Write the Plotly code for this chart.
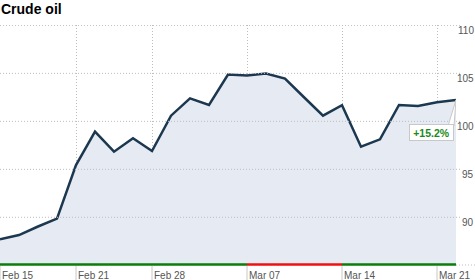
import plotly.graph_objects as go

# ---- data ----
dates = ["2011-02-15", "2011-02-16", "2011-02-17", "2011-02-18",
         "2011-02-22", "2011-02-23", "2011-02-24", "2011-02-25",
         "2011-02-28", "2011-03-01", "2011-03-02", "2011-03-03", "2011-03-04",
         "2011-03-07", "2011-03-08", "2011-03-09", "2011-03-10", "2011-03-11",
         "2011-03-14", "2011-03-15", "2011-03-16", "2011-03-17", "2011-03-18",
         "2011-03-21", "2011-03-22"]
prices = [87.71, 88.15, 89.04, 89.87,
          95.45, 98.93, 96.84, 98.24,
          96.91, 100.59, 102.39, 101.71, 104.87,
          104.77, 104.98, 104.45, 102.51, 100.59,
          101.68, 97.36, 98.13, 101.71, 101.61,
          101.99, 102.23]
x_tick_dates = ["2011-02-15", "2011-02-22", "2011-02-28", "2011-03-07", "2011-03-14", "2011-03-21"]
x_tick_labels = ["Feb 15", "Feb 21", "Feb 28", "Mar 07", "Mar 14", "Mar 21"]
week_colors = ["#0a7d0a", "#0a7d0a", "#0a7d0a", "#ee1111", "#0a7d0a", "#0a7d0a"]
y_ticks = [90, 95, 100, 105, 110]
y_tick_labels = ["90", "95", "100", "105", "110"]
title = "Crude oil"
change_label = "+15.2%"

FONT = "Liberation Sans, Arial, sans-serif"
W, H = 475, 280
L, R, T, B = 0, 19, 25, 15
plot_w = W - L - R
plot_h = H - T - B
DOT = "1px,2px"
GRID = "#bdbdbd"

fig = go.Figure()
fig.add_trace(go.Scatter(
    x=dates, y=prices, mode="lines",
    line=dict(color="#1c3850", width=2.5),
    fill="tozeroy", fillcolor="#e6eaf2",
    hoverinfo="skip", showlegend=False,
))

shapes = []
# horizontal dotted gridlines extending toward the labels
for v in y_ticks:
    shapes.append(dict(type="line", xref="paper", yref="y",
                       x0=0, x1=1 + 5 / plot_w, y0=v, y1=v,
                       line=dict(color=GRID, width=1, dash=DOT), layer="above"))
# weekly up/down bar along the bottom
idx = [dates.index(d) for d in x_tick_dates]
ends = idx[1:] + [len(dates) - 1]
for s, e, c in zip(idx, ends, week_colors):
    shapes.append(dict(type="line", xref="x", yref="paper",
                       x0=dates[s], x1=dates[e], y0=0.5 / plot_h, y1=0.5 / plot_h,
                       line=dict(color=c, width=2.5)))
shapes.append(dict(type="line", xref="paper", yref="paper",
                   x0=1, x1=W / plot_w, y0=0, y1=0,
                   line=dict(color=GRID, width=1, dash=DOT)))
# tick marks below the bar
for d in x_tick_dates:
    shapes.append(dict(type="line", xref="x", yref="paper",
                       x0=d, x1=d, y0=-1 / plot_h, y1=-B / plot_h,
                       line=dict(color="#c8c8c8", width=1)))
# callout tail
shapes.append(dict(type="path", xref="x", yref="y",
                   xsizemode="pixel", ysizemode="pixel",
                   xanchor=dates[-1], yanchor=prices[-1],
                   path="M -8 -26 L 0 0 L -2 -26 Z",
                   fillcolor="white", line=dict(color="#c8c8c8", width=1)))

annotations = []
for v, t in zip(y_ticks, y_tick_labels):
    annotations.append(dict(xref="paper", yref="y", x=(W + 0.5) / plot_w, y=v,
                            text=t, showarrow=False, xanchor="right", yanchor="middle",
                            yshift=-5, font=dict(family=FONT, size=10, color="#555555")))
for d, t in zip(x_tick_dates, x_tick_labels):
    annotations.append(dict(xref="x", yref="paper", x=d, y=0,
                            text=t, showarrow=False, xanchor="left", yanchor="top",
                            xshift=1, yshift=-4, borderpad=0,
                            font=dict(family=FONT, size=10, color="#555555")))
annotations.append(dict(xref="paper", yref="paper", x=0, y=(H - B) / plot_h,
                        text="<b>" + title + "</b>", showarrow=False,
                        xanchor="left", yanchor="top", borderpad=0,
                        font=dict(family=FONT, size=14, color="#000000")))
annotations.append(dict(xref="x", yref="y", x=dates[-1], y=prices[-1],
                        text="<b>" + change_label + "</b>", showarrow=False,
                        xanchor="center", yanchor="middle",
                        xshift=-24.5, yshift=-32.5,
                        width=43, height=15,
                        bgcolor="white", bordercolor="#c8c8c8", borderwidth=1, borderpad=0,
                        font=dict(family=FONT, size=10.5, color="#1a8a1a")))

fig.update_layout(
    width=W, height=H,
    margin=dict(l=L, r=R, t=T, b=B, pad=0),
    paper_bgcolor="white", plot_bgcolor="white",
    showlegend=False,
    shapes=shapes, annotations=annotations,
    xaxis=dict(
        type="category", range=[0, len(dates) - 1],
        tickvals=x_tick_dates, ticktext=x_tick_labels,
        showgrid=True, gridcolor=GRID, griddash=DOT, gridwidth=1,
        ticks="", showticklabels=False,
        showline=False, zeroline=False, fixedrange=True, layer="above traces",
    ),
    yaxis=dict(
        range=[85.03, 110.04], showgrid=False, showticklabels=False,
        zeroline=False, showline=False, ticks="", fixedrange=True,
    ),
)

fig.write_html("out.html")
